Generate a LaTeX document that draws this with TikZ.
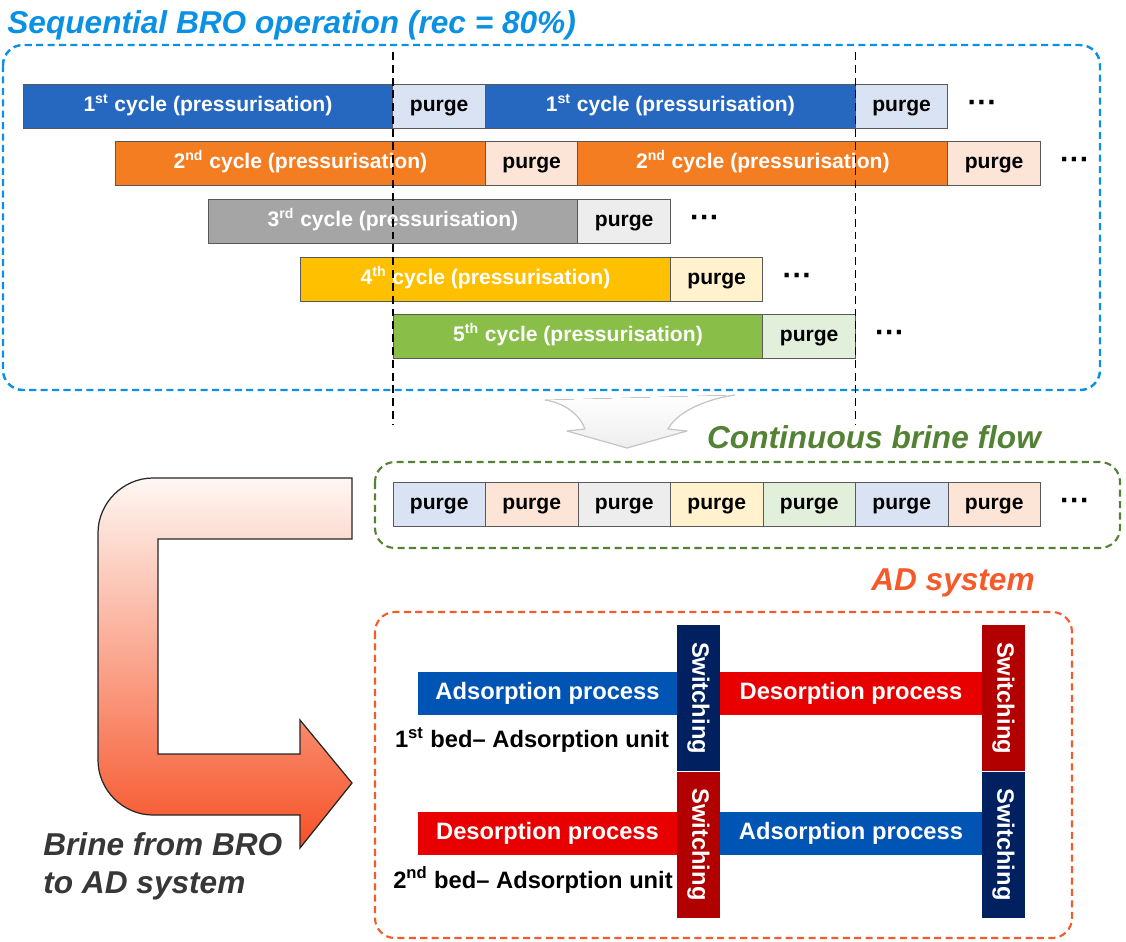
\documentclass[tikz,border=0pt]{standalone}
\usepackage{fontspec}
\setmainfont{Liberation Sans}
\usetikzlibrary{positioning}

\definecolor{titleblue}{RGB}{10,145,228}
\definecolor{flowgreen}{RGB}{84,130,53}
\definecolor{adorange}{RGB}{245,90,42}
\definecolor{cycblue}{RGB}{38,103,192}
\definecolor{cycorange}{RGB}{244,125,34}
\definecolor{cycgray}{RGB}{165,165,165}
\definecolor{cycyellow}{RGB}{255,192,0}
\definecolor{cycgreen}{RGB}{137,190,72}
\definecolor{prgblue}{RGB}{218,227,243}
\definecolor{prgorange}{RGB}{252,228,214}
\definecolor{prggray}{RGB}{237,237,237}
\definecolor{prgyellow}{RGB}{255,242,204}
\definecolor{prggreen}{RGB}{226,239,218}
\definecolor{adsblue}{RGB}{0,84,180}
\definecolor{desred}{RGB}{232,0,0}
\definecolor{swnavy}{RGB}{0,32,96}
\definecolor{swred}{RGB}{178,0,0}
\definecolor{brinetext}{RGB}{55,55,55}

\begin{document}
\begin{tikzpicture}[x=0.02cm,y=-0.02cm]

\tikzstyle cyc=[draw=black!65, line width=0.5pt, outer sep=0pt, minimum width=7.4cm, minimum height=0.88cm, inner sep=0pt, text height=9pt, text depth=2.8pt, text=white, font=\fontsize{12}{14}\selectfont\bfseries]
\tikzstyle prg=[cyc, minimum width=1.85cm, text=black]
\tikzstyle more=[inner sep=0pt, font=\fontsize{17}{18}\selectfont\bfseries]
\tikzstyle heading=[inner sep=0pt, font=\fontsize{18}{21.5}\selectfont\bfseries\itshape]
\tikzstyle proc=[minimum width=5.2cm, minimum height=0.86cm, inner sep=0pt, text height=10pt, text depth=3pt, text=white, font=\fontsize{13.5}{15}\selectfont\bfseries]
\tikzstyle switch=[rotate=-90, minimum width=2.92cm, minimum height=0.86cm, inner sep=0pt, text=white, font=\fontsize{13.5}{15}\selectfont\bfseries]
\tikzstyle bed=[inner sep=0pt, font=\fontsize{13.5}{15}\selectfont\bfseries]
\tikzstyle guide=[black, line width=1.1pt, dash pattern=on 4.5pt off 2.8pt]
\tikzstyle frame=[line width=1.2pt, dash pattern=on 4pt off 2.5pt, rounded corners=0.4cm]

\useasboundingbox (0,0) rectangle (1126,941);

% sequential operation
\node (title) [heading, text=titleblue, anchor=base west] at (7,33) {Sequential BRO operation (rec = 80\%)};
\draw [frame, titleblue, line width=1.4pt] (3,45) rectangle (1100,390);

\node (c1a) [cyc, fill=cycblue, anchor=west] at (23,106) {1\textsuperscript{st} cycle (pressurisation)};
\node (p1a) [prg, fill=prgblue, right=0pt of c1a] {purge};
\node (c1b) [cyc, fill=cycblue, right=0pt of p1a] {1\textsuperscript{st} cycle (pressurisation)};
\node (p1b) [prg, fill=prgblue, right=0pt of c1b] {purge};
\node (d1) [more, right=11pt of p1b] {···};

\node (c2a) [cyc, fill=cycorange, anchor=west] at (115.5,163) {2\textsuperscript{nd} cycle (pressurisation)};
\node (p2a) [prg, fill=prgorange, right=0pt of c2a] {purge};
\node (c2b) [cyc, fill=cycorange, right=0pt of p2a] {2\textsuperscript{nd} cycle (pressurisation)};
\node (p2b) [prg, fill=prgorange, right=0pt of c2b] {purge};
\node (d2) [more, right=11pt of p2b] {···};

\node (c3) [cyc, fill=cycgray, anchor=west] at (208,221) {3\textsuperscript{rd} cycle (pressurisation)};
\node (p3) [prg, fill=prggray, right=0pt of c3] {purge};
\node (d3) [more, right=11pt of p3] {···};

\node (c4) [cyc, fill=cycyellow, anchor=west] at (300.5,279) {4\textsuperscript{th} cycle (pressurisation)};
\node (p4) [prg, fill=prgyellow, right=0pt of c4] {purge};
\node (d4) [more, right=11pt of p4] {···};

\node (c5) [cyc, fill=cycgreen, anchor=west] at (393,336) {5\textsuperscript{th} cycle (pressurisation)};
\node (p5) [prg, fill=prggreen, right=0pt of c5] {purge};
\node (d5) [more, right=11pt of p5] {···};

\foreach \x in {393,855.5}
  \draw [guide] (\x,52) -- (\x,425);

% faded arrow down to the brine row
\fill [top color=white, bottom color=gray!14] (545,400) .. controls (565,403) and (580,415) .. (585,429) -- (567,431) -- (627,448) -- (687,431) -- (668,429) .. controls (675,415) and (700,400) .. (735,395) -- cycle;
\draw [gray!45, line width=0.7pt, line join=round] (545,400) .. controls (565,403) and (580,415) .. (585,429) -- (567,431) -- (627,448) -- (687,431) -- (668,429) .. controls (675,415) and (700,400) .. (735,395);

% continuous brine flow
\node (flow) [heading, text=flowgreen] at (874,437) {Continuous brine flow};
\draw [frame, flowgreen] (375,462) rectangle (1120,548);
\foreach \i/\col in {1/prgblue,2/prgorange,3/prggray,4/prgyellow,5/prggreen,6/prgblue,7/prgorange}
  \node (q\i) [prg, fill=\col, anchor=west] at ({393+92.5*(\i-1)},504) {purge};
\node (dq) [more, right=11pt of q7] {···};

% brine to the AD system
\draw [black!85, line width=0.7pt, top color=prgorange!30, bottom color=adorange!90!red]
  (352,478) -- (153,478) .. controls (123,478) and (98,503) .. (98,533)
  -- (98,760) .. controls (98,790) and (123,815) .. (153,815)
  -- (300,815) -- (300,848) -- (352,783) -- (300,720) -- (300,754)
  -- (158,754) -- (158,539) -- (352,539) -- cycle;
\node (brine) [heading, text=brinetext, align=left, anchor=base west] at (43,893) {Brine from BRO\\to AD system};

% AD system
\node (ad) [heading, text=adorange] at (953,583) {AD system};
\draw [frame, adorange] (375,612) rectangle (1072,938);

\node (sw1) [switch, fill=swnavy] at (698.5,698) {Switching};
\node (sw2) [switch, fill=swred] at (698.5,844.5) {Switching};
\node (sw3) [switch, fill=swred] at (1003.5,698) {Switching};
\node (sw4) [switch, fill=swnavy] at (1003.5,844.5) {Switching};

\node (ads1) [proc, fill=adsblue, minimum width=5.18cm] at (547.5,693.5) {Adsorption process};
\node (des1) [proc, fill=desred, minimum width=5.24cm] at (851,693.5) {Desorption process};
\node (des2) [proc, fill=desred, minimum width=5.18cm] at (547.5,833.5) {Desorption process};
\node (ads2) [proc, fill=adsblue, minimum width=5.24cm] at (851,833.5) {Adsorption process};

\node (bed1) [bed] at (532,740) {1\textsuperscript{st} bed-- Adsorption unit};
\node (bed2) [bed] at (533,880) {2\textsuperscript{nd} bed-- Adsorption unit};

\end{tikzpicture}
\end{document}
